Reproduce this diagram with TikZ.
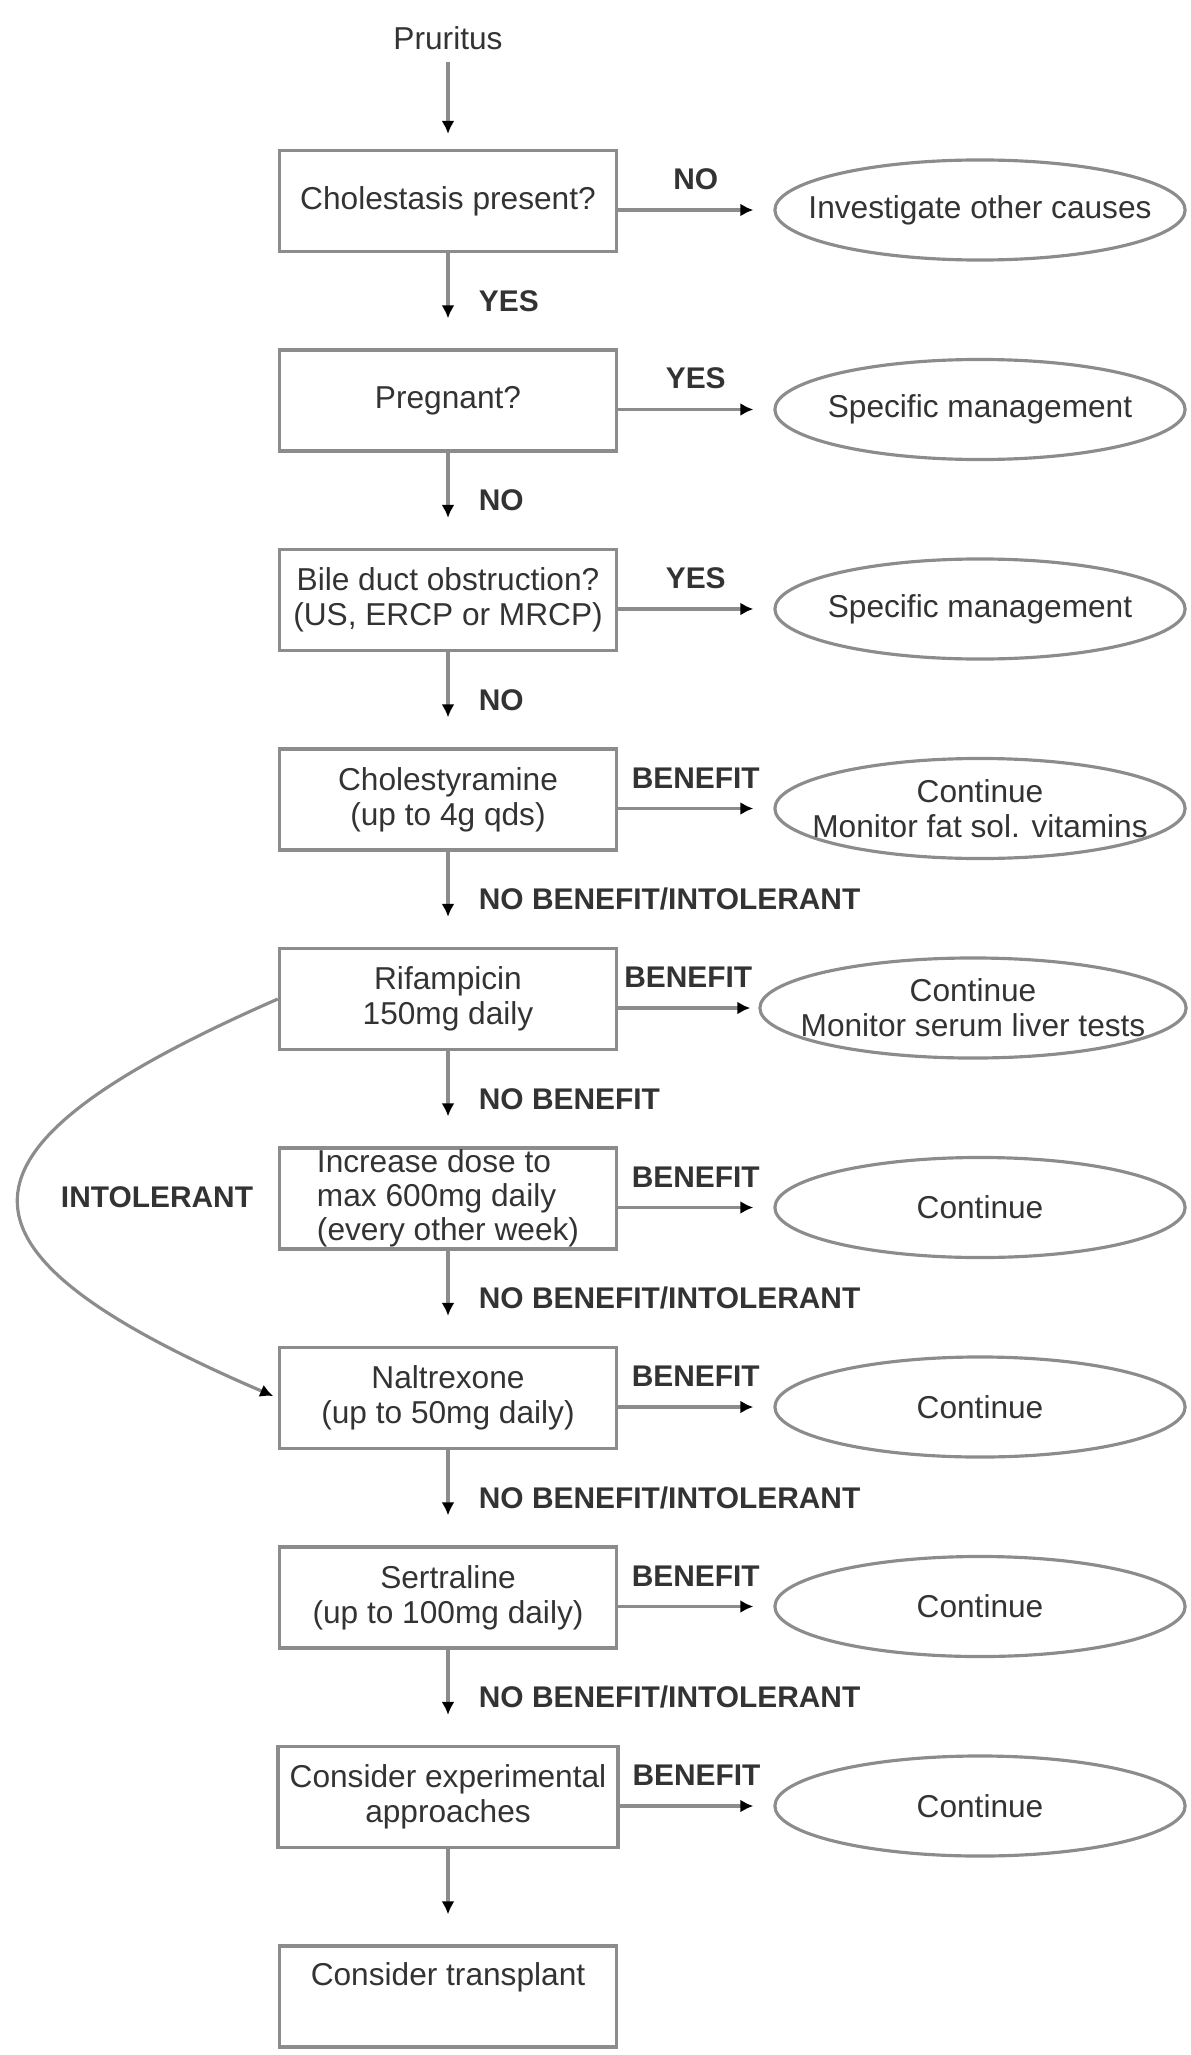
\documentclass[tikz,border=0pt]{standalone}
\usepackage{fontspec}
\setmainfont{Liberation Sans}
\usepackage{tikz}
\usetikzlibrary{shapes.geometric}
\usetikzlibrary{positioning}
\usetikzlibrary{arrows.meta}
\definecolor{linegray}{gray}{0.55}
\definecolor{textgray}{gray}{0.2}

\begin{document}
\begin{tikzpicture}[x=0.01cm, y=-0.01cm,
  every node/.style={text=textgray, font=\fontsize{9}{10}\selectfont},
  stepbox/.style={draw=linegray, line width=0.9pt, minimum width=3.37cm, minimum height=1.01cm, align=center},
  oval/.style={ellipse, draw=linegray, line width=0.9pt, minimum width=4.1cm, minimum height=1cm, inner xsep=-1cm, inner ysep=-0.2cm, align=center},
  lbl/.style={font=\bfseries\fontsize{8.5}{10}\selectfont},
  arr/.style={draw=linegray, line width=0.9pt, shorten >=3mm, -{Latex[length=1.3mm, width=1.3mm, color=black]}}
]
\useasboundingbox (0,0) rectangle (1190,2055);
%
\node (prur) at (448,38) {Pruritus};
\node[stepbox] (chol) at (448,201) {Cholestasis present?};
\node[stepbox] (preg) at (448,400.5) {Pregnant?};
\node[stepbox] (bile) at (448,600) {Bile duct obstruction?\\(US, ERCP or MRCP)};
\node[stepbox] (chst) at (448,799.5) {Cholestyramine\\(up to 4g qds)};
\node[stepbox] (rif) at (448,999) {Rifampicin\\150mg daily};
\node[stepbox, align=left, inner ysep=0pt, font=\fontsize{9}{9.7}\selectfont] (rifmax) at (448,1198.5) {Increase dose to\\max 600mg daily\\(every other week)};
\node[stepbox] (nal) at (448,1398) {Naltrexone\\(up to 50mg daily)};
\node[stepbox] (sert) at (448,1597.5) {Sertraline\\(up to 100mg daily)};
\node[stepbox] (exper) at (448,1797) {Consider experimental\\approaches};
\node[stepbox, text depth=0.45cm] (trans) at (448,1996.5) {Consider transplant};

%
\node[oval] (inv) at (980,210) {Investigate other causes};
\node[oval] (spec1) at (980,409.5) {Specific management};
\node[oval] (spec2) at (980,609) {Specific management};
\node[oval] (cont1) at (980,808.5) {Continue\\Monitor fat sol. vitamins};
\node[oval, minimum width=4.26cm] (cont2) at (973,1008) {Continue\\Monitor serum liver tests};
\node[oval] (cont3) at (980,1207.5) {Continue};
\node[oval] (cont4) at (980,1407) {Continue};
\node[oval] (cont5) at (980,1606.5) {Continue};
\node[oval] (cont6) at (980,1806) {Continue};

%
\draw[arr, shorten >=1.5mm] (prur) -- (chol);
\draw[arr] (chol) -- (preg) node[lbl, midway, right=5pt] {YES};
\draw[arr] (preg) -- (bile) node[lbl, midway, right=5pt] {NO};
\draw[arr] (bile) -- (chst) node[lbl, midway, right=5pt] {NO};
\draw[arr] (chst) -- (rif) node[lbl, midway, right=5pt] {NO BENEFIT/INTOLERANT};
\draw[arr] (rif) -- (rifmax) node[lbl, midway, right=5pt] {NO BENEFIT};
\draw[arr] (rifmax) -- (nal) node[lbl, midway, right=5pt] {NO BENEFIT/INTOLERANT};
\draw[arr] (nal) -- (sert) node[lbl, midway, right=5pt] {NO BENEFIT/INTOLERANT};
\draw[arr] (sert) -- (exper) node[lbl, midway, right=5pt] {NO BENEFIT/INTOLERANT};
\draw[arr] (exper) -- (trans);

%
\draw[arr, shorten >=2mm] (chol.east |- inv) -- (inv) node[lbl, midway, above=2pt] {NO};
\draw[arr, shorten >=2mm] (preg.east |- spec1) -- (spec1) node[lbl, midway, above=2pt] {YES};
\draw[arr, shorten >=2mm] (bile.east |- spec2) -- (spec2) node[lbl, midway, above=2pt] {YES};
\draw[arr, shorten >=2mm] (chst.east |- cont1) -- (cont1) node[lbl, midway, above=2pt] {BENEFIT};
\draw[arr, shorten >=0.8mm] (rif.east |- cont2) -- (cont2) node[lbl, midway, above=2pt] {BENEFIT};
\draw[arr, shorten >=2mm] (rifmax.east |- cont3) -- (cont3) node[lbl, midway, above=2pt] {BENEFIT};
\draw[arr, shorten >=2mm] (nal.east |- cont4) -- (cont4) node[lbl, midway, above=2pt] {BENEFIT};
\draw[arr, shorten >=2mm] (sert.east |- cont5) -- (cont5) node[lbl, midway, above=2pt] {BENEFIT};
\draw[arr, shorten >=2mm] (exper.east |- cont6) -- (cont6) node[lbl, midway, above=2pt] {BENEFIT};

%
\draw[arr, shorten >=0.5mm] (rif.west) .. controls (-67,1150) and (-67,1250) .. (nal.west);
\node[lbl] (intol) at (157,1197) {INTOLERANT};

\end{tikzpicture}
\end{document}
